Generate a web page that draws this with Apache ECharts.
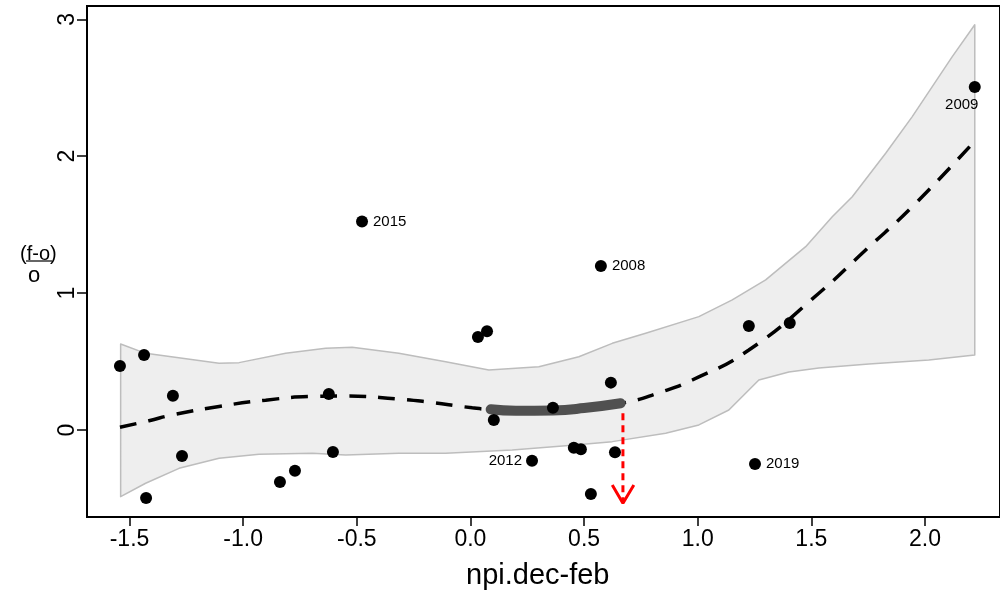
<!DOCTYPE html>
<html>
<head>
<meta charset="utf-8">
<script src="https://cdn.jsdelivr.net/npm/echarts@6/dist/echarts.min.js"></script>
<style>
  html, body { margin: 0; padding: 0; background: #fff; }
  #chart { width: 1000px; height: 593px; }
</style>
</head>
<body>
<div id="chart"></div>
<script>
// observed points
const pointX = [-1.542, -1.436, -1.427, -1.309, -1.269, -0.838, -0.772, -0.623, -0.605, -0.477,
  0.033, 0.073, 0.103, 0.363, 0.271, 0.455, 0.486, 0.530, 0.574, 0.618, 0.636,
  1.225, 1.405, 1.252, 2.219];
const pointY = [0.467, 0.548, -0.497, 0.250, -0.190, -0.380, -0.298, 0.263, -0.160, 1.523,
  0.679, 0.722, 0.073, 0.163, -0.224, -0.129, -0.141, -0.467, 1.198, 0.346, -0.163,
  0.760, 0.782, -0.248, 2.505];
const pointYear = [null, null, null, null, null, null, null, null, null, "2015",
  null, null, null, null, "2012", null, null, null, "2008", null, null,
  null, null, "2019", "2009"];

// smooth fit
const fitX = [-1.542, -1.414, -1.312, -1.106, -0.901, -0.696, -0.549, -0.315, -0.197, 0.008,
  0.089, 0.363, 0.661, 0.844, 0.976, 1.225, 1.533, 1.739, 1.944, 2.223];
const fitY = [0.020, 0.068, 0.110, 0.172, 0.218, 0.245, 0.248, 0.226, 0.207, 0.162,
  0.151, 0.146, 0.195, 0.280, 0.365, 0.584, 0.999, 1.315, 1.631, 2.118];

// highlighted part of the fit
const highlightX = [0.089, 0.200, 0.363, 0.500, 0.661];
const highlightY = [0.151, 0.140, 0.143, 0.160, 0.195];

// confidence band
const upperX = [-1.539, -1.429, -1.106, -1.018, -0.813, -0.637, -0.520, -0.315, -0.109, 0.081,
  0.301, 0.477, 0.624, 0.771, 1.005, 1.152, 1.299, 1.475, 1.592, 1.680, 1.827, 1.944, 2.120, 2.219];
const upperY = [0.628, 0.560, 0.487, 0.492, 0.560, 0.597, 0.604, 0.560, 0.499, 0.438,
  0.462, 0.535, 0.633, 0.706, 0.828, 0.950, 1.096, 1.339, 1.558, 1.704, 2.021, 2.289, 2.727, 2.960];
const lowerX = [-1.539, -1.429, -1.282, -1.106, -0.930, -0.696, -0.549, -0.315, -0.109, 0.184,
  0.419, 0.624, 0.859, 1.005, 1.137, 1.203, 1.269, 1.401, 1.533, 1.753, 2.017, 2.219];
const lowerY = [-0.487, -0.389, -0.280, -0.207, -0.178, -0.170, -0.183, -0.170, -0.170, -0.146,
  -0.115, -0.085, -0.024, 0.037, 0.146, 0.256, 0.365, 0.424, 0.453, 0.482, 0.511, 0.548];

// red arrow
const arrowX = [0.671, 0.671];
const arrowY = [0.122, -0.525];
const arrowHeadX = [0.624, 0.671, 0.719];
const arrowHeadY = [-0.402, -0.535, -0.402];

const xTicks = [-1.5, -1.0, -0.5, 0.0, 0.5, 1.0, 1.5, 2.0];
const yTicks = [0, 1, 2, 3];

const zip = (xs, ys) => xs.map((x, i) => [x, ys[i]]);
const labelPos = {
  "2015": { position: "right", distance: 5 },
  "2008": { position: "right", distance: 5 },
  "2019": { position: "right", distance: 5 },
  "2012": { position: "left", distance: 4 },
  "2009": { position: "bottom", distance: 4, offset: [-13, 0] },
};

const chart = echarts.init(document.getElementById("chart"));
const font = "'Liberation Sans', Arial, Helvetica, sans-serif";

chart.setOption({
  animation: false,
  backgroundColor: "#fff",
  grid: {
    left: 87,
    top: 6,
    right: -3,
    bottom: 76,
    show: true,
    borderColor: "#000",
    borderWidth: 2,
  },
  xAxis: {
    type: "value",
    min: -1.687,
    max: 2.330,
    splitLine: { show: false },
    axisLine: { show: false, onZero: false },
    axisTick: { show: true, length: 9, customValues: xTicks, lineStyle: { color: "#000", width: 1.5 } },
    axisLabel: {
      customValues: xTicks,
      formatter: (v) => v.toFixed(1),
      color: "#000",
      fontSize: 23,
      fontFamily: font,
      margin: 11,
    },
  },
  yAxis: {
    type: "value",
    min: -0.6355,
    max: 3.097,
    splitLine: { show: false },
    axisLine: { show: false, onZero: false },
    axisTick: { show: true, length: 10, customValues: yTicks, lineStyle: { color: "#000", width: 1.5 } },
    axisLabel: {
      customValues: yTicks,
      rotate: 90,
      color: "#000",
      fontSize: 23,
      fontFamily: font,
      margin: 8,
    },
  },
  graphic: [
    { type: "text", left: 466, top: 561, style: { text: "npi.dec-feb", fontSize: 29, fontFamily: font, fill: "#000" } },
    { type: "text", left: 20, top: 244, style: { text: "(f-o)", fontSize: 20, fontFamily: font, fill: "#000" } },
    { type: "line", shape: { x1: 26, y1: 261, x2: 52, y2: 261 }, style: { stroke: "#000", lineWidth: 1.2 } },
    { type: "text", left: 28, top: 265, style: { text: "o", fontSize: 22, fontFamily: font, fill: "#000" } },
  ],
  series: [
    {
      name: "band",
      type: "custom",
      z: 1,
      data: [[0, 0]],
      renderItem(params, api) {
        const pts = upperX.map((x, i) => api.coord([x, upperY[i]]));
        for (let i = lowerX.length - 1; i >= 0; i--) {
          pts.push(api.coord([lowerX[i], lowerY[i]]));
        }
        return {
          type: "polygon",
          shape: { points: pts },
          style: { fill: "#eeeeee", stroke: "#bdbdbd", lineWidth: 1.5, lineJoin: "round" },
        };
      },
    },
    {
      name: "fit",
      type: "line",
      z: 2,
      data: zip(fitX, fitY),
      smooth: 0.5,
      showSymbol: false,
      lineStyle: { color: "#000", width: 3.5, type: [17, 12] },
    },
    {
      name: "arrow",
      type: "line",
      z: 3,
      data: zip(arrowX, arrowY),
      showSymbol: false,
      lineStyle: { color: "#ff0000", width: 3, type: [7, 5] },
    },
    {
      name: "arrowHead",
      type: "line",
      z: 3,
      data: zip(arrowHeadX, arrowHeadY),
      showSymbol: false,
      lineStyle: { color: "#ff0000", width: 3 },
    },
    {
      name: "highlight",
      type: "line",
      z: 4,
      data: zip(highlightX, highlightY),
      smooth: true,
      showSymbol: false,
      lineStyle: { color: "#505050", width: 10, cap: "round" },
    },
    {
      name: "points",
      type: "scatter",
      z: 5,
      symbolSize: 12,
      itemStyle: { color: "#000", opacity: 1 },
      data: pointX.map((x, i) => {
        const item = { value: [x, pointY[i]] };
        const yr = pointYear[i];
        if (yr) {
          item.label = Object.assign({
            show: true,
            formatter: yr,
            color: "#000",
            fontSize: 15,
            fontFamily: font,
          }, labelPos[yr]);
        }
        return item;
      }),
    },
  ],
});
</script>
</body>
</html>
